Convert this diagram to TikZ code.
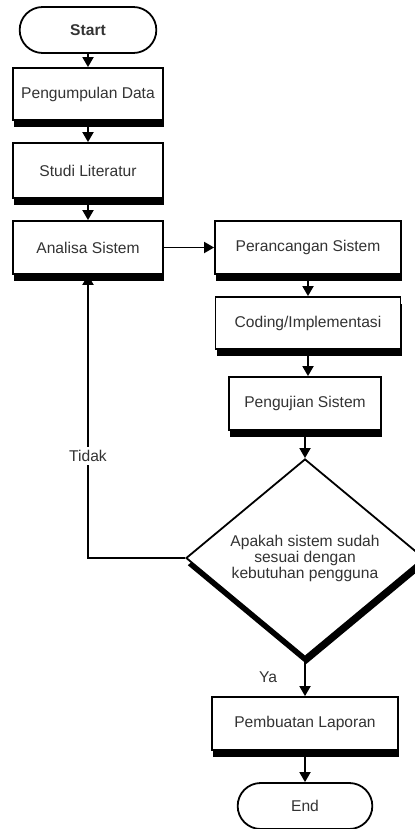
\documentclass[tikz,border=0pt]{standalone}
\usepackage{fontspec}
\setmainfont{Liberation Sans}
\usetikzlibrary{shapes.geometric,shapes.misc,shadows,arrows.meta}

\begin{document}
\begin{tikzpicture}[x=0.5pt,y=-0.5pt,
  font=\fontsize{7.8}{8}\selectfont, line width=0.9pt,
  bayang/.style={drop shadow={shadow xshift=0.7pt,shadow yshift=-3.6pt,opacity=1,fill=black}},
  proses/.style={draw, fill=white, text=black!80, inner sep=1pt, minimum width=75pt, minimum height=27pt, bayang},
  terminal/.style={draw, rounded rectangle, fill=white, text=black!80, minimum width=75pt, minimum height=23pt},
  keputusan/.style={draw, diamond, fill=white, text=black!80, align=center, inner sep=0pt, minimum width=119pt, minimum height=99pt, bayang},
  panah/.style={-{Triangle[length=5pt,width=5.5pt]}},
  label/.style={text=black!80, fill=white, inner sep=1.5pt}]
\useasboundingbox (0,0) rectangle (414,829);
\node[terminal] (start) at (88,30) {\textbf{Start}};
\node[proses, minimum height=26pt] (data) at (88,94) {Pengumpulan Data};
\node[proses, minimum height=27.5pt] (studi) at (88,170.5) {Studi Literatur};
\node[proses, minimum height=26.5pt] (analisa) at (88,247.5) {Analisa Sistem};
\node[proses, minimum width=93pt, minimum height=26.5pt] (rancang) at (308,247.5) {Perancangan Sistem};
\node[proses, minimum width=92.5pt, minimum height=26pt] (coding) at (308,323) {Coding/Implementasi};
\node[proses, minimum width=76pt, minimum height=26.5pt] (uji) at (305,403.5) {Pengujian Sistem};
\node[keputusan] (cek) at (305,558) {Apakah sistem sudah\\sesuai dengan\\kebutuhan pengguna};
\node[proses, minimum width=93pt, minimum height=26.5pt] (laporan) at (305,723.5) {Pembuatan Laporan};
\node[terminal, minimum width=74pt] (end) at (305,806) {End};
\draw[panah] (start) -- (data);
\draw[panah] (data) -- (studi);
\draw[panah] (studi) -- (analisa);
\draw[panah] (analisa) -- (rancang);
\draw[panah] (rancang) -- (coding);
\draw[panah] (coding.south) -- (coding.south |- uji.north);
\draw[panah] (uji) -- (cek);
\draw[panah] (cek.west) -| (analisa.south) node[label, pos=0.68] {Tidak};
\draw[panah] (cek) -- (laporan) node[label, midway, left=12pt] {Ya};
\draw[panah] (laporan) -- (end);
\end{tikzpicture}
\end{document}
